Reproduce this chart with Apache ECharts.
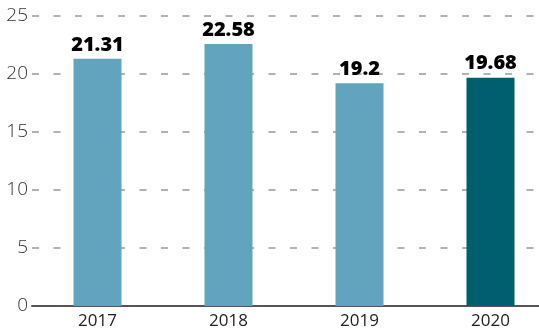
<!DOCTYPE html>
<html>
<head>
<meta charset="utf-8">
<script src="https://cdn.jsdelivr.net/npm/echarts@6/dist/echarts.min.js"></script>
<style>
  html, body { margin: 0; padding: 0; background: #fff; }
  #chart { width: 539px; height: 336px; }
</style>
</head>
<body>
<div id="chart"></div>
<script>
// Yearly values
const years = ['2017', '2018', '2019', '2020'];
const values = [21.31, 22.58, 19.2, 19.68];
const barColors = ['#62a3be', '#62a3be', '#62a3be', '#005f6f'];
const yTicks = [0, 5, 10, 15, 20, 25];

const chart = echarts.init(document.getElementById('chart'));
chart.setOption({
  animation: false,
  grid: { left: 32, top: 16, width: 524, height: 290, outerBoundsMode: 'none', containLabel: false },
  xAxis: {
    type: 'category',
    data: years,
    axisLine: { show: true, lineStyle: { color: '#555', width: 2 } },
    axisTick: { show: false },
    axisLabel: {
      color: '#222', fontSize: 17, margin: 7,
      fontFamily: 'Open Sans', fontWeight: 'normal'
    }
  },
  yAxis: {
    type: 'value',
    min: yTicks[0],
    max: yTicks[yTicks.length - 1],
    interval: 5,
    axisLine: { show: false },
    axisTick: { show: false },
    axisLabel: {
      color: '#333', fontSize: 19, margin: 4,
      fontFamily: 'Open Sans', fontWeight: 300
    },
    splitLine: {
      show: true,
      lineStyle: { color: '#999', width: 1.5, type: [7, 14.5] }
    }
  },
  series: [{
    type: 'bar',
    barWidth: 48,
    data: values.map((v, i) => ({ value: v, itemStyle: { color: barColors[i] } })),
    label: {
      show: true,
      position: 'top',
      distance: 4,
      color: '#000',
      fontSize: 20,
      fontWeight: 800,
      fontFamily: 'Open Sans'
    }
  }]
});
</script>
</body>
</html>
